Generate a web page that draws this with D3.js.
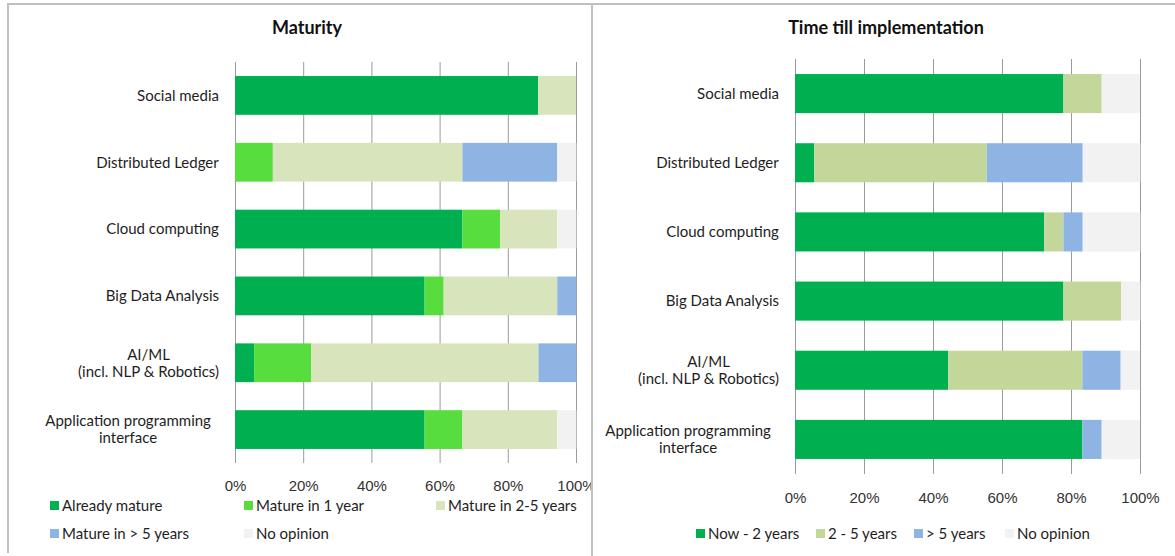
<!DOCTYPE html>
<html>
<head>
<meta charset="utf-8">
<script src="https://cdn.jsdelivr.net/npm/d3@7"></script>
<style>
body { margin: 0; background: #fff; }
svg { display: block; font-family: Lato, "Open Sans", sans-serif; }
</style>
</head>
<body>
<svg id="chart"></svg>
<script>
// categories (top to bottom), "\n" = line break in label
const categories = [
    "Social media",
    "Distributed Ledger",
    "Cloud computing",
    "Big Data Analysis",
    "AI/ML\n(incl. NLP & Robotics)",
    "Application programming\ninterface"
];
const ticks = [0, 20, 40, 60, 80, 100];

// Maturity (% of answers)
const maturityKeys = ["Already mature", "Mature in 1 year", "Mature in 2-5 years", "Mature in > 5 years", "No opinion"];
const alreadyMature = [88.9, 0, 66.7, 55.6, 5.6, 55.6];
const matureIn1Year = [0, 11.1, 11.1, 5.6, 16.7, 11.1];
const matureIn2to5 = [11.1, 55.6, 16.7, 33.3, 66.7, 27.8];
const matureOver5 = [0, 27.8, 0, 5.6, 11.1, 0];
const noOpinionMaturity = [0, 5.6, 5.6, 0, 0, 5.6];
const maturityColors = ["#00b050", "#58dd3f", "#d8e4bc", "#8db4e2", "#f2f2f2"];

// Time till implementation (% of answers)
const timeKeys = ["Now - 2 years", "2 - 5 years", "> 5 years", "No opinion"];
const now2Years = [77.8, 5.6, 72.2, 77.8, 44.4, 83.3];
const years2to5 = [11.1, 50.0, 5.6, 16.7, 38.9, 0];
const over5Years = [0, 27.8, 5.6, 0, 11.1, 5.6];
const noOpinionTime = [11.1, 16.7, 16.7, 5.6, 5.6, 11.1];
const timeColors = ["#00b050", "#c4d79b", "#8db4e2", "#f2f2f2"];

const width = 1175;
const height = 556;
const svg = d3.select("#chart").attr("width", width).attr("height", height);

// frame lines
svg.append("rect").attr("x", 8).attr("y", 3).attr("width", width - 8).attr("height", 2).attr("fill", "#c0c0c0");
svg.append("rect").attr("x", 7).attr("y", 3).attr("width", 2).attr("height", 550).attr("fill", "#c0c0c0");
svg.append("rect").attr("x", 591).attr("y", 3).attr("width", 2).attr("height", height - 3).attr("fill", "#c0c0c0");

let makeRows = (keys, series) => categories.map((c, i) => {
    let row = { cat: c };
    keys.forEach((k, j) => row[k] = series[j][i]);
    return row;
});

function drawPanel(p) {
    let g = svg.append("g");
    if (p.clipId) {
        svg.append("clipPath").attr("id", p.clipId)
            .append("rect").attr("x", p.clipX[0]).attr("y", 0)
            .attr("width", p.clipX[1] - p.clipX[0]).attr("height", height);
        g.attr("clip-path", `url(#${p.clipId})`);
    }

    let scX = d3.scaleLinear().domain([0, 100]).range([p.left, p.right]);
    let scY = d3.scaleBand().domain(categories).range([p.top, p.bottom]).paddingInner(p.pad).paddingOuter(p.pad / 2);

    // title
    g.append("text")
        .attr("x", p.titleX).attr("y", 34)
        .attr("text-anchor", "middle")
        .style("font-size", "18px").style("font-weight", "bold").style("fill", "#111")
        .text(p.title);

    // axis + gridlines
    let axis = d3.axisBottom(scX)
        .tickValues(ticks)
        .tickFormat(d => d + "%")
        .tickSizeInner(-(p.bottom - p.top))
        .tickSizeOuter(0)
        .tickPadding(p.tickPad);
    let ax = g.append("g")
        .attr("transform", `translate(0, ${p.bottom})`)
        .call(axis);
    ax.select(".domain").remove();
    ax.selectAll("line").attr("stroke", "#9a9a9a");
    ax.selectAll("text").style("font-size", "15px").style("fill", "#333").attr("font-family", null);

    // stacked bars
    let stacked = d3.stack().keys(p.keys)(makeRows(p.keys, p.series));
    g.selectAll(".layer")
        .data(stacked)
        .enter()
        .append("g")
        .attr("fill", (d, i) => p.colors[i])
        .selectAll("rect")
        .data(d => d)
        .enter()
        .append("rect")
        .attr("x", d => scX(d[0]))
        .attr("y", d => scY(d.data.cat))
        .attr("width", d => scX(d[1]) - scX(d[0]))
        .attr("height", scY.bandwidth());

    // category labels
    categories.forEach(c => {
        let lines = c.split("\n");
        let cy = scY(c) + scY.bandwidth() / 2;
        let t = g.append("text")
            .attr("text-anchor", "middle")
            .style("font-size", "15px").style("fill", "#1e1e1e");
        lines.forEach((l, i) => {
            t.append("tspan")
                .attr("x", 0)
                .attr("y", cy + (i - (lines.length - 1) / 2) * 17)
                .attr("dy", "0.35em")
                .text(l);
        });
        let w = t.node().getBBox().width;
        let gap = lines[0].length > 20 ? 24 : 16;
        t.attr("transform", `translate(${p.left - gap - w / 2}, 0)`);
    });

    // legend
    p.legend.forEach(item => {
        let i = p.keys.indexOf(item.key);
        g.append("rect")
            .attr("x", item.x).attr("y", item.y - 5)
            .attr("width", 9).attr("height", 9)
            .attr("fill", p.colors[i]);
        g.append("text")
            .attr("x", item.x + 12).attr("y", item.y)
            .attr("dy", "0.35em")
            .style("font-size", "15px").style("fill", "#1e1e1e")
            .text(item.key);
    });
}

drawPanel({
    title: "Maturity", titleX: 307,
    keys: maturityKeys,
    series: [alreadyMature, matureIn1Year, matureIn2to5, matureOver5, noOpinionMaturity],
    colors: maturityColors,
    left: 235, right: 576, top: 62, bottom: 463, pad: 0.42, tickPad: 17,
    clipId: "clipLeft", clipX: [9, 591],
    legend: [
        { key: "Already mature", x: 50, y: 506 },
        { key: "Mature in 1 year", x: 244, y: 506 },
        { key: "Mature in 2-5 years", x: 436, y: 506 },
        { key: "Mature in > 5 years", x: 50, y: 534 },
        { key: "No opinion", x: 244, y: 534 }
    ]
});

drawPanel({
    title: "Time till implementation", titleX: 886,
    keys: timeKeys,
    series: [now2Years, years2to5, over5Years, noOpinionTime],
    colors: timeColors,
    left: 795, right: 1140, top: 59, bottom: 474, pad: 0.435, tickPad: 18,
    legend: [
        { key: "Now - 2 years", x: 696, y: 534 },
        { key: "2 - 5 years", x: 816, y: 534 },
        { key: "> 5 years", x: 914, y: 534 },
        { key: "No opinion", x: 1005, y: 534 }
    ]
});
</script>
</body>
</html>
